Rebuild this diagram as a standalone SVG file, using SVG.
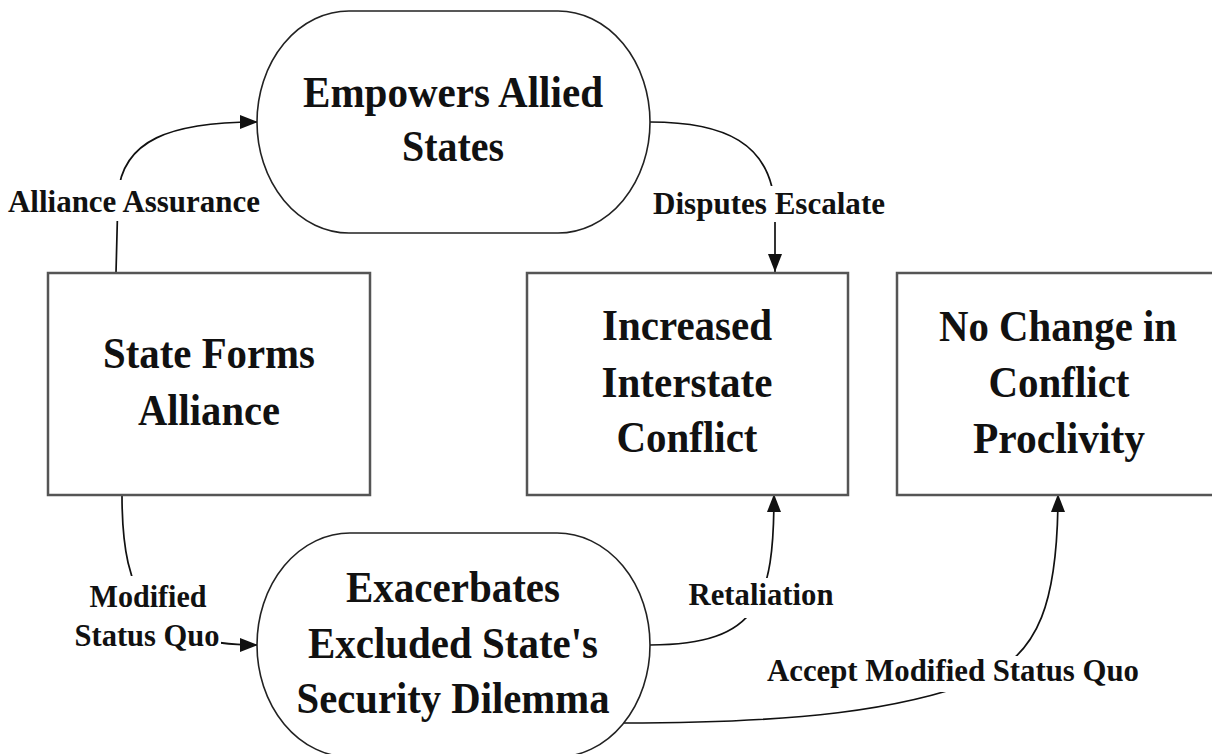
<svg xmlns="http://www.w3.org/2000/svg" width="1212" height="754" viewBox="0 0 1212 754">
<style>
.stad{fill:#fff;stroke:#222;stroke-width:1.6}
.box{fill:#fff;stroke:#555;stroke-width:2.5}
.nt{font-family:"Liberation Serif","Times New Roman",serif;font-weight:bold;font-size:44px;fill:#111;text-anchor:middle}
.lt{font-family:"Liberation Serif","Times New Roman",serif;font-weight:bold;font-size:31px;fill:#111;text-anchor:middle}
.edge{fill:none;stroke:#111;stroke-width:1.7}
.bg{fill:#fff;stroke:none}
</style>
<defs>
<marker id="arr" markerUnits="userSpaceOnUse" markerWidth="18" markerHeight="14" refX="18" refY="7" orient="auto">
<path d="M0,0 L18,7 L0,14 z" fill="#111"/>
</marker>
</defs>
<rect width="1212" height="754" fill="#fff"/>

<g id="connectors">
<path class="edge" d="M116,273 L118,195 C122,140 170,122 258,122" marker-end="url(#arr)"/>
<path class="edge" d="M650,122 C720,122 775,140 775,215 L775,272" marker-end="url(#arr)"/>
<path class="edge" d="M122,495 C122,600 150,645 258,645" marker-end="url(#arr)"/>
<path class="edge" d="M650,645 C760,645 774,600 774,494" marker-end="url(#arr)"/>
<path class="edge" d="M623,723 C800,723 900,710 980,680 C1040,655 1058,600 1058,494" marker-end="url(#arr)"/>
<rect class="bg" x="5" y="180" width="258" height="41"/>
<text class="lt" x="134" y="212" textLength="252" lengthAdjust="spacingAndGlyphs">Alliance Assurance</text>
<rect class="bg" x="650" y="186" width="238" height="36"/>
<text class="lt" x="769" y="214" textLength="232" lengthAdjust="spacingAndGlyphs">Disputes Escalate</text>
<rect class="bg" x="70" y="576" width="151" height="77"/>
<text class="lt" x="148" y="607" textLength="117" lengthAdjust="spacingAndGlyphs">Modified</text>
<text class="lt" x="147" y="646" textLength="145" lengthAdjust="spacingAndGlyphs">Status Quo</text>
<rect class="bg" x="686" y="578" width="151" height="40"/>
<text class="lt" x="761" y="605" textLength="145" lengthAdjust="spacingAndGlyphs">Retaliation</text>
<rect class="bg" x="762" y="656" width="382" height="36"/>
<text class="lt" x="953" y="681" textLength="372" lengthAdjust="spacingAndGlyphs">Accept Modified Status Quo</text>
</g>

<g id="node-empowers">
<rect class="stad" x="257" y="11" width="393" height="222" rx="92" ry="111"/>
<text class="nt" x="453" y="107" textLength="300" lengthAdjust="spacingAndGlyphs">Empowers Allied</text>
<text class="nt" x="453" y="161" textLength="102" lengthAdjust="spacingAndGlyphs">States</text>
</g>

<g id="node-state-forms">
<rect class="box" x="48" y="273" width="322" height="222"/>
<text class="nt" x="209" y="368" textLength="212" lengthAdjust="spacingAndGlyphs">State Forms</text>
<text class="nt" x="209" y="425" textLength="142" lengthAdjust="spacingAndGlyphs">Alliance</text>
</g>

<g id="node-increased">
<rect class="box" x="527" y="273" width="321" height="222"/>
<text class="nt" x="687" y="340" textLength="170" lengthAdjust="spacingAndGlyphs">Increased</text>
<text class="nt" x="687" y="397" textLength="171" lengthAdjust="spacingAndGlyphs">Interstate</text>
<text class="nt" x="687" y="452" textLength="141" lengthAdjust="spacingAndGlyphs">Conflict</text>
</g>

<g id="node-no-change">
<rect class="box" x="897" y="273" width="330" height="222"/>
<text class="nt" x="1058" y="341" textLength="238" lengthAdjust="spacingAndGlyphs">No Change in</text>
<text class="nt" x="1059" y="397" textLength="141" lengthAdjust="spacingAndGlyphs">Conflict</text>
<text class="nt" x="1059" y="453" textLength="172" lengthAdjust="spacingAndGlyphs">Proclivity</text>
</g>

<g id="node-exacerbates">
<rect class="stad" x="257" y="533" width="393" height="224" rx="93" ry="112"/>
<text class="nt" x="453" y="602" textLength="214" lengthAdjust="spacingAndGlyphs">Exacerbates</text>
<text class="nt" x="453" y="658" textLength="290" lengthAdjust="spacingAndGlyphs">Excluded State's</text>
<text class="nt" x="453" y="713" textLength="313" lengthAdjust="spacingAndGlyphs">Security Dilemma</text>
</g>
</svg>
